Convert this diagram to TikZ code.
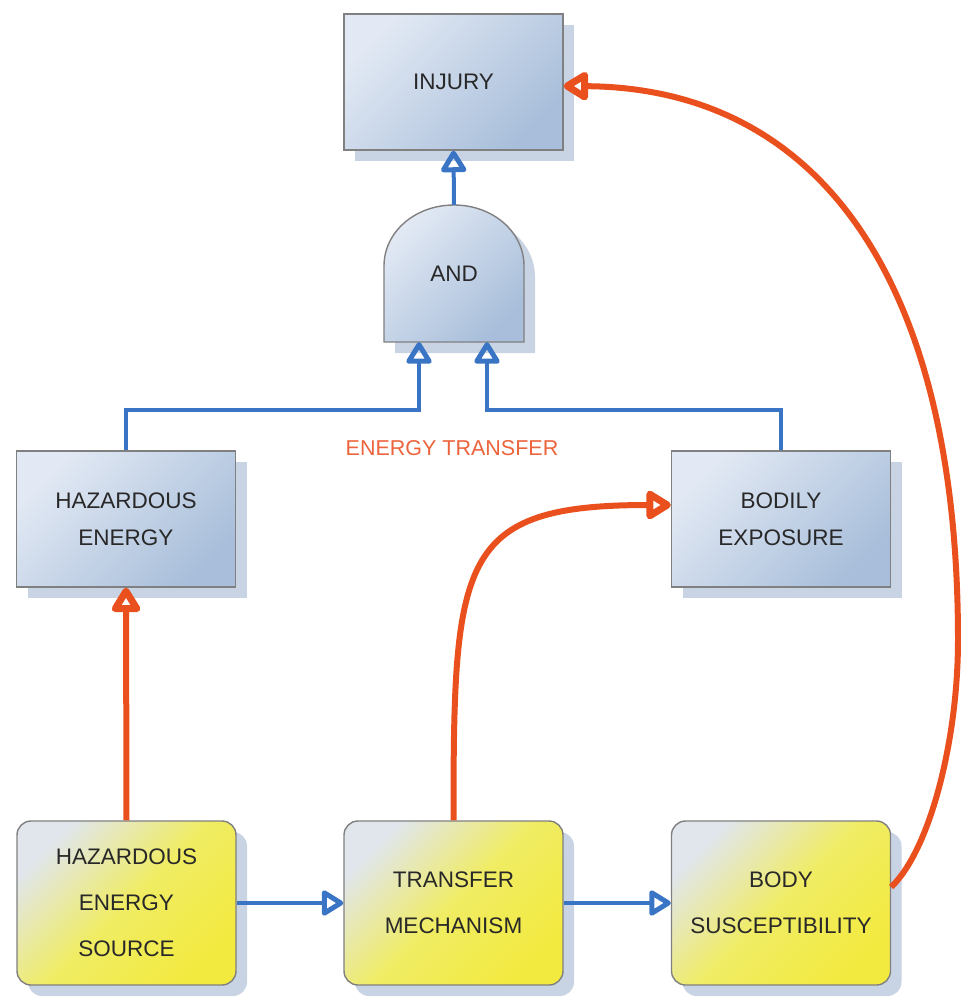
\documentclass[tikz,border=0pt]{standalone}
\usepackage{fontspec}
\setmainfont{Liberation Sans}
\usetikzlibrary{arrows.meta,shadows,calc}

\definecolor{boxtext}{RGB}{40,40,40}
\definecolor{edgegray}{RGB}{128,128,128}
\definecolor{shadowblue}{RGB}{200,211,227}
\definecolor{bluelight}{RGB}{226,233,244}
\definecolor{bluedark}{RGB}{168,190,218}
\definecolor{yellowlight}{RGB}{224,230,236}
\definecolor{yellowmid}{RGB}{240,236,100}
\definecolor{yellowdark}{RGB}{243,234,64}
\definecolor{flowblue}{RGB}{58,116,196}
\definecolor{causeorange}{RGB}{234,80,30}
\definecolor{labelorange}{RGB}{236,100,60}

\tikzset{
  boxfont/.style={font=\fontsize{22.5}{37}\selectfont, text=boxtext, align=center},
  flatshadow/.style={drop shadow={shadow xshift=11pt, shadow yshift=-11pt, fill=shadowblue, opacity=1}},
  bluebox/.style={boxfont, draw=edgegray, line width=1.4pt, flatshadow,
    minimum width=219pt, minimum height=136pt, inner sep=0pt,
    top color=bluelight, bottom color=bluedark, shading angle=45},
  yellowbox/.style={boxfont, font=\fontsize{22.5}{46}\selectfont, draw=edgegray,
    line width=1.4pt, rounded corners=14pt, flatshadow,
    minimum width=219pt, minimum height=164pt, inner sep=0pt,
    top color=yellowlight, bottom color=yellowdark, middle color=yellowmid, shading angle=45},
  flow/.style={draw=flowblue, line width=4pt, -{Triangle[open, round, length=24pt, width=28pt, line width=5pt]}},
  cause/.style={draw=causeorange, line width=6pt, -{Triangle[open, round, length=28pt, width=32pt, line width=7pt]}},
}

\begin{document}
\begin{tikzpicture}[x=1pt, y=-1pt]
\useasboundingbox (0,0) rectangle (961,997);

% blue event boxes
\node[bluebox] (inj) at (453.5,82) {INJURY};
\node[bluebox] (he) at (126,519) {HAZARDOUS\\ENERGY};
\node[bluebox] (be) at (781,519) {BODILY\\EXPOSURE};

% yellow source boxes
\node[yellowbox] (hes) at (126.5,903) {HAZARDOUS\\ENERGY\\SOURCE};
\node[yellowbox] (tm) at (453.5,903) {TRANSFER\\MECHANISM};
\node[yellowbox] (bs) at (781,903) {BODY\\SUSCEPTIBILITY};

% AND gate: shadow, then shaded dome body
\fill[shadowblue] (395,353) -- (395,277)
  .. controls (395,243) and (426,216) .. (465,216)
  .. controls (504,216) and (535,243) .. (535,277) -- (535,353) -- cycle;
\shade[draw=edgegray, line width=1.4pt, top color=bluelight, bottom color=bluedark, shading angle=45]
  (384,342) -- (384,266)
  .. controls (384,232) and (415,205) .. (454,205)
  .. controls (493,205) and (524,232) .. (524,266) -- (524,342) -- cycle;
\node[boxfont, minimum width=140pt, minimum height=137pt, inner sep=0pt] (and) at (454,273.5) {AND};

\node[font=\fontsize{21.5}{26}\selectfont, text=labelorange] (et) at (452,448) {ENERGY TRANSFER};

% blue logic connectors
\coordinate (inL) at ($(and.south)+(-35,0)$);
\coordinate (inR) at ($(and.south)+(33,0)$);
\draw[flow] (and.north) -- (inj.south);
\draw[flow] (he.north) |- ($(inL)+(0,68)$) -- (inL);
\draw[flow] (be.north) |- ($(inR)+(0,68)$) -- (inR);
\draw[flow] (hes.east) -- (tm.west);
\draw[flow] (tm.east) -- (bs.west);

% orange causal connectors
\draw[cause] (hes.north) -- (he.south);
\draw[cause] (tm.north) .. controls ($(tm.north)+(0,-262)$) and ($(be.west)+(-212,-14)$) .. ($(be.west)+(0,-14)$);
\coordinate (arcR) at (958,640);
\draw[cause] ($(bs.east)+(0,-16)$) .. controls (930,850) and (958,740) .. (arcR)
  .. controls (958,281) and (820,88) .. ($(inj.east)+(0,4)$);
\end{tikzpicture}
\end{document}
